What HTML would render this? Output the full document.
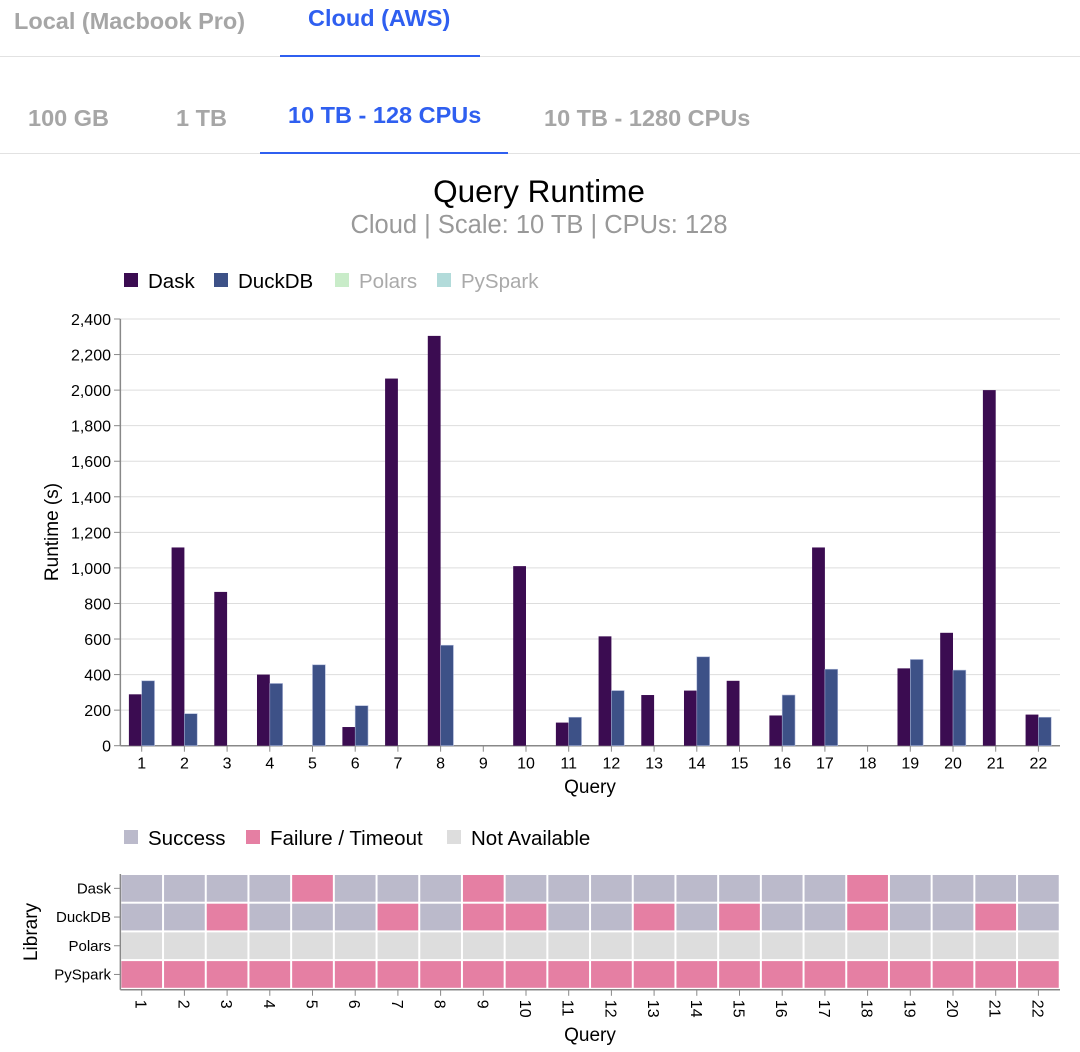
<!DOCTYPE html>
<html><head><meta charset="utf-8">
<style>
body{margin:0;width:1080px;height:1052px;background:#fff;font-family:"Liberation Sans",sans-serif;overflow:hidden;position:relative}
.tab{position:absolute;font-weight:bold;font-size:23.5px;color:#a6a6a6}
.act{color:#2f5ff0}
.line{position:absolute;left:0;width:1080px;height:1px;background:#e2e2e2}
.ul{position:absolute;height:2px;background:#2f5ff0}
</style></head><body>
<div class="tab" style="left:14px;top:8px">Local (Macbook Pro)</div>
<div class="tab act" style="left:308px;top:5px">Cloud (AWS)</div>
<div class="line" style="top:56px"></div>
<div class="ul" style="left:280px;top:55px;width:200px"></div>
<div class="tab" style="left:28px;top:105px">100 GB</div>
<div class="tab" style="left:176px;top:105px">1 TB</div>
<div class="tab act" style="left:288px;top:102px">10 TB - 128 CPUs</div>
<div class="tab" style="left:544px;top:105px">10 TB - 1280 CPUs</div>
<div class="line" style="top:153px"></div>
<div class="ul" style="left:260px;top:152px;width:248px"></div>
<svg id="c" width="1080" height="1052" style="position:absolute;left:0;top:0"></svg>
<script>
const queries=["1","2","3","4","5","6","7","8","9","10","11","12","13","14","15","16","17","18","19","20","21","22"];
const dask=[289,1115,865,400,0,105,2065,2305,0,1010,130,615,285,310,365,170,1115,0,435,635,2000,175];
const duckdb=[365,180,0,350,455,225,0,565,0,0,160,310,0,500,0,285,430,0,485,425,0,160];
const yTicks=[0,200,400,600,800,1000,1200,1400,1600,1800,2000,2200,2400];
const libraries=["Dask","DuckDB","Polars","PySpark"];
const statusDask="SSSSFSSSFSSSSSSSSFSSSS";
const statusDuck="SSFSSSFSFFSSFSFSSFSSFS";
const statusPolars="NNNNNNNNNNNNNNNNNNNNNN";
const statusSpark="FFFFFFFFFFFFFFFFFFFFFF";
const statuses=[statusDask,statusDuck,statusPolars,statusSpark];

const svg=document.getElementById('c');const NS='http://www.w3.org/2000/svg';
function mk(t,a,p){const e=document.createElementNS(NS,t);for(const k in a)e.setAttribute(k,a[k]);(p||svg).appendChild(e);return e;}
function txt(s,a){const e=mk('text',a);e.textContent=s;return e;}
const X0=120.35,STEP=42.7,Y0=745.7,Y1=319;
const xb=i=>X0+i*STEP, xc=i=>X0+(i+0.5)*STEP;
const y=v=>Y0-(v/2400)*(Y0-Y1);
let e;
e=txt('Query Runtime',{x:539,y:202,'text-anchor':'middle','font-size':31.5,fill:'#000'});
e=txt('Cloud | Scale: 10 TB | CPUs: 128',{x:539,y:233,'text-anchor':'middle','font-size':25.5,fill:'#999'});
const leg=[["Dask","#3b0c51","#000",124],["DuckDB","#3d5187","#000",214],["Polars","#c9ecc9","#aaa",335],["PySpark","#b2dbda","#aaa",437]];
leg.forEach(l=>{const g=mk('g',{});
mk('rect',{x:l[3],y:273,width:14,height:14,fill:l[1]},g);const t=mk('text',{x:l[3]+24,y:288,'font-size':20.5,fill:l[2]},g);t.textContent=l[0];});
yTicks.forEach(v=>{const yy=y(v);
if(v>0){e=mk('line',{x1:X0,x2:1060,y1:yy,y2:yy,stroke:'#ddd','stroke-width':1});}
mk('line',{x1:114,x2:X0,y1:yy,y2:yy,stroke:'#888'});
e=txt(v.toLocaleString('en-US'),{x:111,y:yy+6,'text-anchor':'end','font-size':16,fill:'#000'});});
mk('line',{x1:X0,x2:X0,y1:Y1,y2:Y0,stroke:'#888','stroke-width':1.5});
mk('line',{x1:X0,x2:1060,y1:Y0,y2:Y0,stroke:'#888','stroke-width':1.5});
e=txt('Runtime (s)',{transform:'translate(58,532) rotate(-90)','text-anchor':'middle','font-size':19,fill:'#000'});
queries.forEach((q,i)=>{const w=STEP*0.3;
if(dask[i]>0){e=mk('rect',{x:xc(i)-w,y:y(dask[i]),width:w,height:Y0-y(dask[i]),fill:'#3b0c51'});}
if(duckdb[i]>0){e=mk('rect',{x:xc(i),y:y(duckdb[i]),width:w,height:Y0-y(duckdb[i]),fill:'#3d5187',stroke:'#aab4d6','stroke-width':0.6});}
mk('line',{x1:xc(i),x2:xc(i),y1:Y0,y2:Y0+6,stroke:'#888'});
e=txt(q,{x:xc(i),y:Y0+23,'text-anchor':'middle','font-size':16,fill:'#000'});});
e=txt('Query',{x:590,y:793,'text-anchor':'middle','font-size':19,fill:'#000'});
const sl=[["Success","#bbbacb",124],["Failure / Timeout","#e57fa3",246],["Not Available","#dddddd",447]];
sl.forEach(l=>{const g=mk('g',{});
mk('rect',{x:l[2],y:830,width:14,height:14,fill:l[1]},g);const t=mk('text',{x:l[2]+24,y:845,'font-size':20.5,fill:'#000'},g);t.textContent=l[0];});
const HT=874,RH=28.7,col={S:'#bbbacb',F:'#e57fa3',N:'#dddddd'};
libraries.forEach((lib,r)=>{const yy=HT+r*RH;
mk('line',{x1:114,x2:X0,y1:yy+RH/2,y2:yy+RH/2,stroke:'#888'});
e=txt(lib,{x:111,y:yy+RH/2+5,'text-anchor':'end','font-size':15,fill:'#000'});
queries.forEach((q,i)=>{e=mk('rect',{x:xb(i)+1,y:yy+1,width:STEP-2,height:RH-2,fill:col[statuses[r][i]]});});});
const HB=HT+4*RH+1;
mk('line',{x1:X0,x2:X0,y1:HT,y2:HB,stroke:'#888','stroke-width':1.5});
mk('line',{x1:X0,x2:1060,y1:HB,y2:HB,stroke:'#888','stroke-width':1.5});
queries.forEach((q,i)=>{mk('line',{x1:xc(i),x2:xc(i),y1:HB,y2:HB+6,stroke:'#888'});
e=txt(q,{transform:`translate(${xc(i)-6},${HB+10}) rotate(90)`,'font-size':16,fill:'#000'});});
e=txt('Library',{transform:'translate(37,932) rotate(-90)','text-anchor':'middle','font-size':19,fill:'#000'});
e=txt('Query',{x:590,y:1041,'text-anchor':'middle','font-size':19,fill:'#000'});
</script>
</body></html>
